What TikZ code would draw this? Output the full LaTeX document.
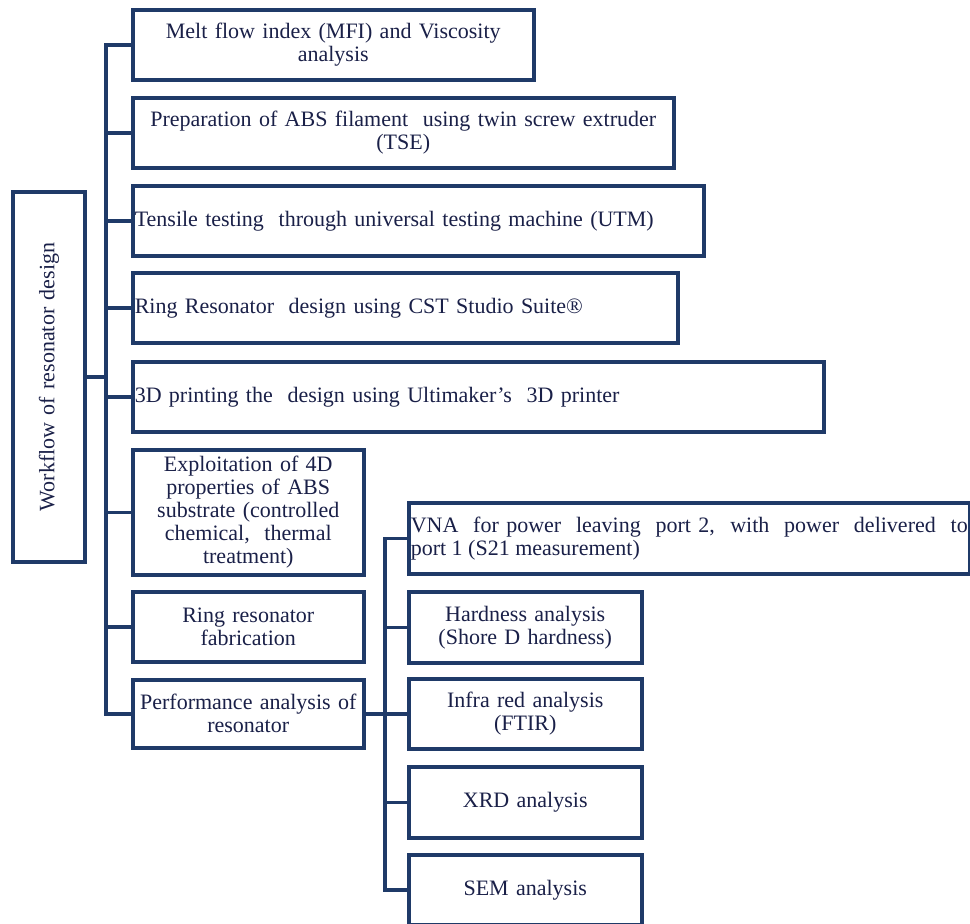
\documentclass[tikz,border=0pt]{standalone}
\usepackage{fontspec}
\setmainfont{Liberation Serif}
\definecolor{navy}{HTML}{1F3A68}
\definecolor{ink}{HTML}{1A2048}
\begin{document}
\begin{tikzpicture}[x=1pt,y=-1pt,
  box/.style={draw=navy, line width=3.5pt, inner xsep=2pt, inner ysep=0pt, anchor=north west,
    font=\rmfamily\fontsize{22}{23}\selectfont, text=ink, fill=white},
  conn/.style={draw=navy, line width=3.5pt, line cap=rect}]
\useasboundingbox (0,0) rectangle (970,924);
% trunk positions
\coordinate (trunk) at (106,0);
\coordinate (sub) at (385,0);
% workflow box (rotated: its south anchor faces right)
\node[box, rotate=90, anchor=center, minimum width=370, minimum height=72, text width=366, align=center]
  (wf) at (49,377) {Workflow of resonator design};
% main boxes
\node[box, minimum width=401, minimum height=70, text width=397, align=center] (b1) at (131,8)
  {Melt flow index (MFI) and Viscosity\\analysis};
\node[box, minimum width=541, minimum height=70, text width=537, align=center] (b2) at (131,96)
  {Preparation of ABS filament \ using twin screw extruder\\(TSE)};
\node[box, minimum width=571, minimum height=70, text width=567, align=left] (b3) at (131,184)
  {Tensile testing \ through universal testing machine (UTM)};
\node[box, minimum width=545, minimum height=70, text width=541, align=left] (b4) at (131,271)
  {Ring Resonator \ design using CST Studio Suite\textregistered};
\node[box, minimum width=691, minimum height=70, text width=687, align=left] (b5) at (131,360)
  {3D printing the \ design using Ultimaker's \ 3D printer};
\node[box, minimum width=231, minimum height=125, text width=227, align=center] (b6) at (131,448)
  {Exploitation of 4D\\properties of ABS\\substrate (controlled\\chemical, \ thermal\\treatment)};
\node[box, minimum width=231, minimum height=70, text width=227, align=center] (b7) at (131,590)
  {Ring resonator\\fabrication};
\node[box, minimum width=231, minimum height=68, text width=227, align=center] (b8) at (131,678)
  {Performance analysis of\\resonator};
% sub boxes
\node[box, minimum width=561, minimum height=71, text width=557, align=justify] (s1) at (407,501)
  {VNA \ for power \ leaving \ port 2, \ with \ power \ delivered \ to\linebreak port 1 (S21 measurement)};
\node[box, minimum width=233, minimum height=71, text width=229, align=center] (s2) at (407,590)
  {Hardness analysis\\(Shore D hardness)};
\node[box, minimum width=233, minimum height=70, text width=229, align=center] (s3) at (407,677)
  {Infra red analysis\\(FTIR)};
\node[box, minimum width=233, minimum height=71, text width=229, align=center] (s4) at (407,765)
  {XRD analysis};
\node[box, minimum width=233, minimum height=70, text width=229, align=center] (s5) at (407,853)
  {SEM analysis};
% connectors: main trunk
\draw[conn] (b1.west) -- (b1.west -| trunk) -- (b8.west -| trunk) -- (b8.west);
\foreach \b in {b2,b3,b4,b5,b6,b7}
  \draw[conn] (\b.west) -- (\b.west -| trunk);
\draw[conn] (wf.south) -- (wf.south -| trunk);
% connectors: sub trunk
\draw[conn] (b8.east) -- (b8.east -| sub);
\draw[conn] (s1.west) -- (s1.west -| sub) -- (s5.west -| sub) -- (s5.west);
\foreach \s in {s2,s3,s4}
  \draw[conn] (\s.west) -- (\s.west -| sub);
\end{tikzpicture}
\end{document}
